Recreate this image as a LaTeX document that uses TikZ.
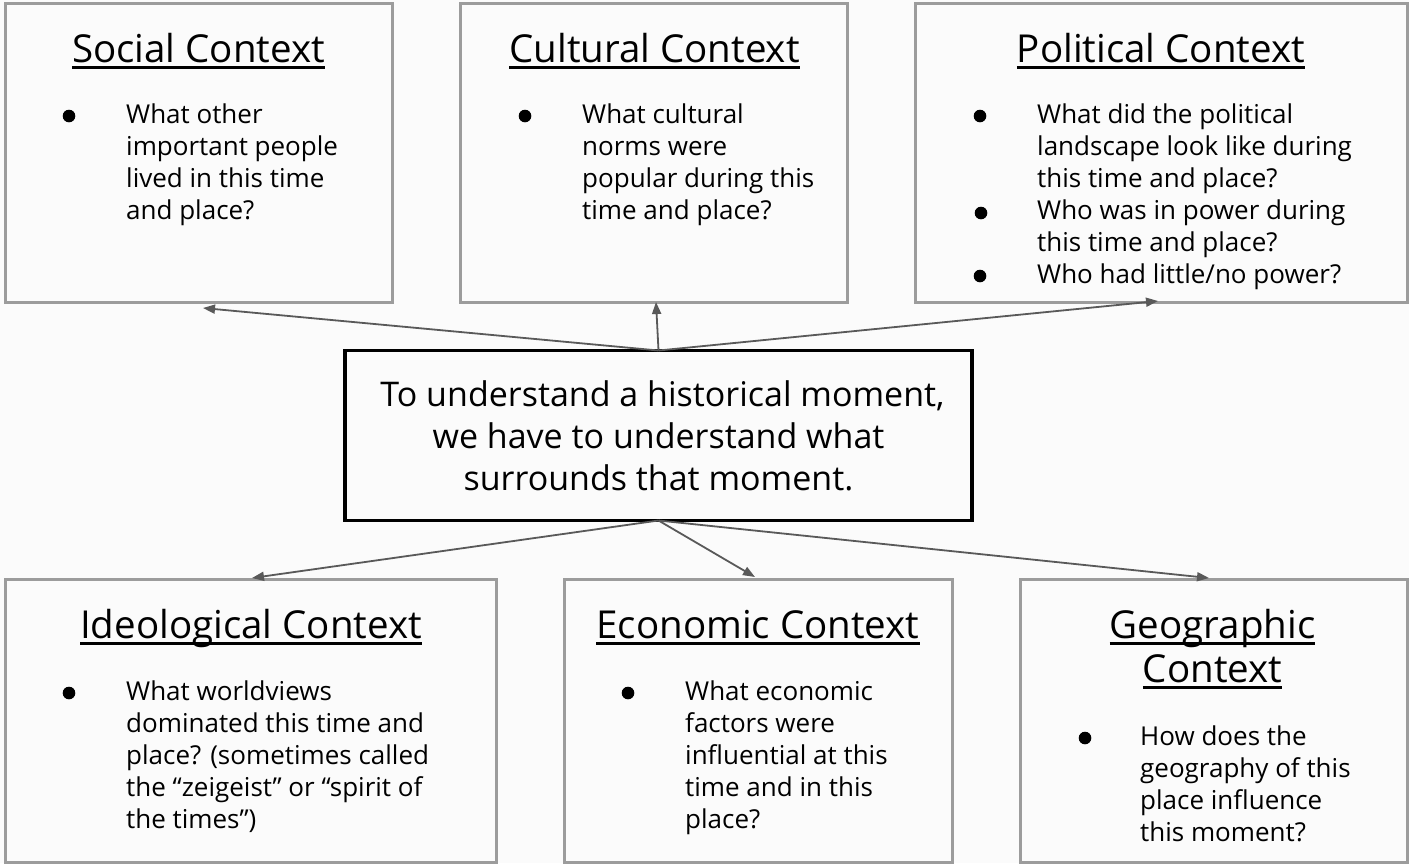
\documentclass[tikz,border=0pt]{standalone}
\usepackage{fontspec}
\setmainfont{Open Sans}
\usetikzlibrary{arrows.meta}
\definecolor{bggray}{HTML}{FBFBFB}
\definecolor{boxgray}{HTML}{9C9C9C}
\definecolor{arrgray}{HTML}{595959}
\newcommand\myul[1]{\setbox0\hbox{#1}\rlap{\rule[-6.5pt]{\wd0}{2.6pt}}\box0}
\begin{document}
\begin{tikzpicture}[x=1pt,y=-1pt,
  ctxbox/.style={draw=boxgray, line width=3pt, fill=bggray, inner sep=0pt, outer sep=0pt},
  mainbox/.style={draw=black, line width=3.5pt, fill=bggray, inner sep=0pt, outer sep=0pt, align=center,
     font=\fontsize{34}{42}\selectfont},
  ttl/.style={inner sep=0pt, anchor=base, align=center, font=\fontsize{38.5}{44}\selectfont},
  body/.style={inner sep=0pt, anchor=base west, align=left, font=\fontsize{26}{32}\selectfont},
  bul/.style={fill=black},
  arr/.style={draw=arrgray, line width=1.8pt, -{Triangle[length=12pt,width=9pt]}}]
\useasboundingbox[fill=bggray] (0,0) rectangle (1409,863);

% boxes
\node[ctxbox, minimum width=387pt, minimum height=299pt] (social) at (198.5,152.5) {};
\node[ctxbox, minimum width=387pt, minimum height=299pt] (cultural) at (653.5,152.5) {};
\node[ctxbox, minimum width=492pt, minimum height=299pt] (political) at (1161,152.5) {};
\node[ctxbox, minimum width=491pt, minimum height=283pt] (ideological) at (250.5,720.5) {};
\node[ctxbox, minimum width=388pt, minimum height=283pt] (economic) at (758,720.5) {};
\node[ctxbox, minimum width=387pt, minimum height=283pt] (geographic) at (1213.5,720.5) {};
\node[mainbox, minimum width=627pt, minimum height=170pt] (moment) at (658.5,435.5)
  {\hspace*{8pt}To understand a historical moment,\\we have to understand what\\surrounds that moment.};

% titles (base anchor = last line)
\node[ttl] (socialT) at (198.5,62) {\myul{Social Context}};
\node[ttl] (culturalT) at (654.5,62) {\myul{Cultural Context}};
\node[ttl] (politicalT) at (1161,62) {\myul{Political Context}};
\node[ttl] (ideologicalT) at (251,638) {\myul{Ideological Context}};
\node[ttl] (economicT) at (758,638) {\myul{Economic Context}};
\node[ttl] (geographicT) at (1212.5,682) {\myul{Geographic}\\\myul{Context}};

% body texts (base anchor = last line baseline)
\node[body] (socialB) at (126,219) {What other\\important people\\lived in this time\\and place?};
\node[body] (culturalB) at (582,219) {What cultural\\norms were\\popular during this\\time and place?};
\node[body] (politicalB) at (1037,283) {What did the political\\landscape look like during\\this time and place?\\Who was in power during\\this time and place?\\Who had little/no power?};
\node[body] (ideologicalB) at (126,828) {What worldviews\\dominated this time and\\place? (sometimes called\\the “zeigeist” or “spirit of\\the times”)};
\node[body] (economicB) at (685,828) {What economic\\factors were\\influential at this\\time and in this\\place?};
\node[body] (geographicB) at (1140,841) {How does the\\geography of this\\place influence\\this moment?};

% bullets
\fill[bul] (69,116) circle (6.3pt);
\fill[bul] (525,116) circle (6.3pt);
\fill[bul] (980,116) circle (6.3pt);
\fill[bul] (981,213) circle (6.3pt);
\fill[bul] (980,276) circle (6.3pt);
\fill[bul] (69,693) circle (6.3pt);
\fill[bul] (628,693) circle (6.3pt);
\fill[bul] (1085,738) circle (6.3pt);

% arrow tips
\coordinate (socialTip) at (203,308);
\coordinate (culturalTip) at (656,302);
\coordinate (politicalTip) at (1158,301);
\coordinate (ideologicalTip) at (252,578);
\coordinate (economicTip) at (755,577);
\coordinate (geographicTip) at (1209,578);

\draw[arr] (moment.north) -- (socialTip);
\draw[arr] (moment.north) -- (culturalTip);
\draw[arr] (moment.north) -- (politicalTip);
\draw[arr] (moment.south) -- (ideologicalTip);
\draw[arr] (moment.south) -- (economicTip);
\draw[arr] (moment.south) -- (geographicTip);
\end{tikzpicture}
\end{document}
